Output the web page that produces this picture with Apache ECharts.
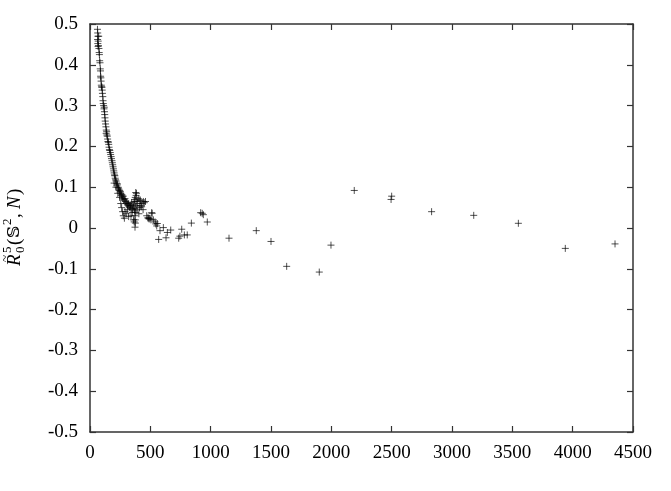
<!DOCTYPE html>
<html>
<head>
<meta charset="utf-8">
<script src="https://cdn.jsdelivr.net/npm/echarts@6/dist/echarts.min.js"></script>
<style>html,body{margin:0;padding:0;background:#fff;}#c{width:671px;height:491px;}</style>
</head>
<body>
<div id="c"></div>
<script>
// Dense band of points (N, value) for small N
var clusterPoints = [
[62,0.487],[64,0.478],[66,0.470],[63,0.462],[68,0.458],[65,0.452],[70,0.447],[72,0.470],[67,0.445],[74,0.440],
[76,0.430],[78,0.425],[80,0.410],[83,0.405],[85,0.390],[87,0.385],[88,0.372],[90,0.368],[92,0.360],[94,0.350],
[96,0.346],[99,0.345],[101,0.338],[103,0.330],[106,0.322],[108,0.312],[110,0.305],[113,0.300],[116,0.292],[118,0.296],
[120,0.285],[122,0.278],[124,0.270],[126,0.262],[129,0.255],[132,0.248],[135,0.240],[134,0.232],[138,0.236],[140,0.228],
[143,0.225],[146,0.218],[149,0.212],[152,0.210],[155,0.205],[158,0.198],[161,0.192],[164,0.190],[168,0.185],[171,0.180],
[175,0.175],[178,0.170],[182,0.165],[185,0.160],[188,0.155],[191,0.150],[194,0.145],[197,0.140],[200,0.135],[203,0.130],
[206,0.128],[209,0.122],[212,0.118],[216,0.115],[220,0.110],[224,0.105],[228,0.108],[232,0.100],[236,0.098],[240,0.095],
[244,0.092],[248,0.088],[252,0.090],[256,0.085],[260,0.080],[264,0.082],[268,0.076],[272,0.072],[276,0.078],[280,0.070],
[285,0.068],[290,0.072],[295,0.065],[300,0.060],[305,0.063],[310,0.058],[315,0.055],[320,0.060],[325,0.052],[330,0.050],
[335,0.055],[340,0.048],[345,0.062],[350,0.045],[355,0.058],[360,0.052],[365,0.065],[368,0.042],[370,0.070],[372,0.048],
[375,0.075],[378,0.038],[380,0.055],[382,0.080],[385,0.085],[372,0.030],[375,0.020],[388,0.065],[390,0.045],[395,0.060],
[400,0.072],[405,0.035],[410,0.050],[415,0.068],[420,0.055],[430,0.060],[440,0.045],[450,0.062],[460,0.065],
[200,0.110],[215,0.100],[230,0.085],[245,0.075],[255,0.060],[262,0.050],[270,0.040],[276,0.030],[285,0.024],[290,0.040],
[300,0.035],[310,0.045],[320,0.028],[340,0.030],[350,0.038],[360,0.020],[373,0.002],[376,0.012],[366,0.015],[379,0.087],
[442,0.065],[414,0.069],[428,0.052]
];
// Sparser points for larger N
var tailPoints = [
[470,0.030],[480,0.025],[483,0.024],[490,0.022],[497,0.024],[505,0.020],[511,0.0375],[515,0.036],[525,0.020],[539,0.015],
[545,0.010],[553,0.005],[558,0.011],[569,-0.028],[580,-0.0065],[608,0.001],[630,-0.024],[641,-0.011],[669,-0.005],[735,-0.025],
[745,-0.020],[760,-0.003],[782,-0.017],[806,-0.017],[840,0.012],[917,0.0375],[930,0.036],[939,0.0327],[972,0.0147],[1152,-0.025],
[1378,-0.0065],[1500,-0.033],[1630,-0.094],[1900,-0.108],[1997,-0.042],[2190,0.092],[2500,0.078],[2495,0.070],[2831,0.040],[3180,0.031],
[3550,0.0115],[3939,-0.050],[4351,-0.039]
];
var xTicks = {min: 0, max: 4500, step: 500};
var yTicks = {min: -0.5, max: 0.5, step: 0.1};

var serif = "'Liberation Serif', 'DejaVu Serif', serif";
var frameLine = {show: true, onZero: false, lineStyle: {color: '#333', width: 1.5}};
var inTick = {show: true, inside: true, length: 6, lineStyle: {color: '#333', width: 1.2}};
var lbl = {fontFamily: serif, fontSize: 19, color: '#000'};

var chart = echarts.init(document.getElementById('c'));
var plus = 'path://M0,5L10,5M5,0L5,10';
var markStyle = {color: 'rgba(0,0,0,0)', borderColor: 'rgba(0,0,0,0.85)', borderWidth: 1};

chart.setOption({
  animation: false,
  backgroundColor: '#fff',
  grid: {left: 90, right: 38, top: 24, bottom: 59, containLabel: false},
  xAxis: [
    {type: 'value', min: xTicks.min, max: xTicks.max, interval: xTicks.step, position: 'bottom',
     axisLine: frameLine, axisTick: inTick, splitLine: {show: false},
     axisLabel: Object.assign({margin: 12, formatter: function(v){ return String(Math.round(v)); }}, lbl)},
    {type: 'value', min: xTicks.min, max: xTicks.max, interval: xTicks.step, position: 'top',
     axisLine: frameLine, axisTick: inTick, splitLine: {show: false}, axisLabel: {show: false}}
  ],
  yAxis: [
    {type: 'value', min: yTicks.min, max: yTicks.max, interval: yTicks.step, position: 'left',
     axisLine: frameLine, axisTick: inTick, splitLine: {show: false},
     axisLabel: Object.assign({margin: 12, formatter: function(v){ var r = Math.round(v*10)/10; return r === 0 ? '0' : r.toFixed(1); }}, lbl)},
    {type: 'value', min: yTicks.min, max: yTicks.max, interval: yTicks.step, position: 'right',
     axisLine: frameLine, axisTick: inTick, splitLine: {show: false}, axisLabel: {show: false}}
  ],
  series: [
    {type: 'scatter', data: clusterPoints, symbol: plus, symbolSize: 7, itemStyle: markStyle, xAxisIndex: 0, yAxisIndex: 0},
    {type: 'scatter', data: tailPoints, symbol: plus, symbolSize: 7, itemStyle: markStyle, xAxisIndex: 0, yAxisIndex: 0}
  ],
  graphic: [{
    type: 'group', x: 15, y: 266, rotation: Math.PI / 2,
    children: [
      {type: 'text', x: 0, y: 0, style: {text: 'R', font: 'italic 19px ' + serif, fill: '#000', verticalAlign: 'middle'}},
      {type: 'text', x: 4, y: -9, style: {text: '~', font: '13px ' + serif, fill: '#000', verticalAlign: 'middle'}},
      {type: 'text', x: 13, y: -7, style: {text: '5', font: '13px ' + serif, fill: '#000', verticalAlign: 'middle'}},
      {type: 'text', x: 13, y: 6, style: {text: '0', font: '13px ' + serif, fill: '#000', verticalAlign: 'middle'}},
      {type: 'text', x: 21, y: 0, style: {text: '(', font: '19px ' + serif, fill: '#000', verticalAlign: 'middle'}},
      {type: 'text', x: 28, y: 0, style: {text: '\uD835\uDD4A', font: '17px ' + serif, fill: '#000', verticalAlign: 'middle'}},
      {type: 'text', x: 41, y: -7, style: {text: '2', font: '13px ' + serif, fill: '#000', verticalAlign: 'middle'}},
      {type: 'text', x: 48, y: 0, style: {text: ',', font: '19px ' + serif, fill: '#000', verticalAlign: 'middle'}},
      {type: 'text', x: 57, y: 0, style: {text: 'N', font: 'italic 19px ' + serif, fill: '#000', verticalAlign: 'middle'}},
      {type: 'text', x: 71, y: 0, style: {text: ')', font: '19px ' + serif, fill: '#000', verticalAlign: 'middle'}}
    ]
  }]
});
</script>
</body>
</html>
